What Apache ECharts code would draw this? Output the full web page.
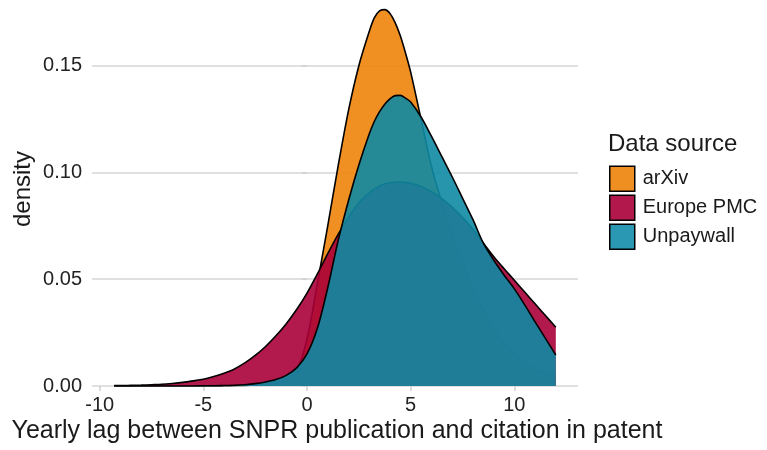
<!DOCTYPE html>
<html>
<head>
<meta charset="utf-8">
<script src="https://cdn.jsdelivr.net/npm/echarts@6/dist/echarts.min.js"></script>
<style>html,body{margin:0;padding:0;background:#fff;}#c{width:767px;height:450px;}</style>
</head>
<body>
<div id="c"></div>
<script>
const lagYears = [-9.3,-9,-8.5,-8,-7.5,-7,-6.5,-6,-5.5,-5,-4.5,-4,-3.5,-3,-2.5,-2,-1.5,-1,-0.5,0,0.5,1,1.5,2,2.5,3,3.25,3.5,3.75,4,4.25,4.5,4.75,5,5.5,6,6.5,7,7.5,8,8.5,9,9.5,10,10.5,11,11.5,12];
const arxivDensity = [0,0,0,0,0,0,0,0,0,0,0,0.0001,0.0002,0.0003,0.0005,0.0008,0.0013,0.0025,0.007,0.022,0.048,0.075,0.103,0.129,0.150,0.166,0.1725,0.1757,0.1763,0.1745,0.1702,0.164,0.156,0.147,0.125,0.103,0.086,0.071,0.058,0.046,0.036,0.027,0.020,0.015,0.011,0.008,0.006,0.0045];
const europePmcDensity = [0.0002,0.0002,0.0003,0.0004,0.0006,0.0008,0.0012,0.0017,0.0024,0.0032,0.0044,0.006,0.008,0.0108,0.0143,0.0185,0.0235,0.0292,0.0358,0.0435,0.0525,0.062,0.071,0.079,0.0858,0.0905,0.0922,0.0937,0.0946,0.0952,0.0954,0.0955,0.0953,0.095,0.0935,0.091,0.0878,0.0838,0.079,0.0735,0.067,0.0607,0.055,0.0495,0.044,0.0385,0.033,0.0275];
const unpaywallDensity = [0,0,0,0,0,0,0,0,0,0.0001,0.0001,0.0002,0.0003,0.0006,0.0011,0.0019,0.003,0.005,0.0085,0.015,0.027,0.046,0.068,0.0868,0.1035,0.118,0.124,0.1285,0.132,0.1345,0.1360,0.1361,0.1348,0.133,0.126,0.117,0.1075,0.098,0.088,0.078,0.067,0.059,0.052,0.0455,0.038,0.030,0.0223,0.0145];
const seriesNames = ['arXiv','Europe PMC','Unpaywall'];
const xTickValues = [-10,-5,0,5,10];
const legendTitle = 'Data source';
const xTitle = 'Yearly lag between SNPR publication and citation in patent';
const yTitle = 'density';

const FONT = '"Liberation Sans", Arial, sans-serif';
const solid = ['#EF8F22','#B2184C','#2A97B3'];
const fills = ['rgba(238,131,10,0.9)','rgba(170,0,56,0.9)','rgba(16,137,163,0.9)'];
const values = [arxivDensity, europePmcDensity, unpaywallDensity];

const chart = echarts.init(document.getElementById('c'), null, {renderer:'canvas'});
chart.setOption({
  animation:false,
  backgroundColor:'#fff',
  textStyle:{fontFamily:FONT},
  title:{text:legendTitle,left:603,top:127,textStyle:{fontFamily:FONT,fontSize:24,fontWeight:'normal',color:'#1a1a1a'}},
  legend:{
    orient:'vertical', left:604, top:160.5, itemWidth:25, itemHeight:25, itemGap:2.5,
    textStyle:{fontFamily:FONT,fontSize:20,color:'#1a1a1a',padding:[0,0,0,3]},
    data: seriesNames.map((n,i)=>({name:n, icon:'rect', itemStyle:{color:solid[i],borderColor:'#000',borderWidth:1.5}}))
  },
  graphic:[
    {type:'text', x:337, y:431, style:{text:xTitle, fontFamily:FONT, fontSize:25, fill:'#1a1a1a', align:'center', verticalAlign:'middle'}},
    {type:'text', x:23, y:189, rotation:Math.PI/2, style:{text:yTitle, fontFamily:FONT, fontSize:24, fill:'#1a1a1a', align:'center', verticalAlign:'middle'}}
  ],
  grid:{left:92,right:189,top:-9,bottom:64,containLabel:false,outerBoundsMode:'none'},
  xAxis:{
    type:'value', min:-10.37, max:13.07,
    axisLine:{show:false},
    splitLine:{show:false},
    axisTick:{show:true,length:5,lineStyle:{color:'#cfcfcf',width:1.5},customValues:xTickValues},
    axisLabel:{fontFamily:FONT,fontSize:20,color:'#222',margin:9,customValues:xTickValues,formatter:v=>String(v)}
  },
  yAxis:{
    type:'value', min:0, max:0.185, interval:0.05,
    axisLine:{show:false},
    axisTick:{show:true,length:5,lineStyle:{color:'#cfcfcf',width:1.5}},
    splitLine:{show:true,lineStyle:{color:'#d6d6d6',width:1.5}},
    axisLabel:{fontFamily:FONT,fontSize:20,color:'#222',margin:10,showMaxLabel:false,formatter:v=>v.toFixed(2)}
  },
  series: seriesNames.map((n,i)=>({
    name:n, type:'line', smooth:0.3, symbol:'none', z:2+i,
    data: lagYears.map((x,j)=>[x, values[i][j]]),
    itemStyle:{color:solid[i]},
    lineStyle:{color:'#000',width:1.6},
    areaStyle:{color:fills[i],opacity:1},
    emphasis:{disabled:true}
  }))
});
</script>
</body>
</html>
